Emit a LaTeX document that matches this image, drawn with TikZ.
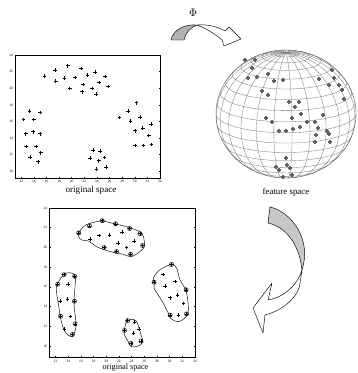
\documentclass[tikz,border=0pt]{standalone}
\usepackage{fontspec}
\setmainfont{Liberation Serif}
\begin{document}
\begin{tikzpicture}[x=1pt,y=-1pt,
  pm/.style={line width=0.5pt},
  sv/.style={line width=0.45pt},
  frame/.style={line width=0.5pt},
  tk/.style={font=\fontsize{3.6}{4}\selectfont, inner sep=0.4pt},
  sph/.style={black!55, line width=0.3pt},
  fp/.style={black!62, line width=1.5pt},
  arr/.style={line width=0.45pt, line join=round},
  lbl/.style={inner sep=0pt}]
\useasboundingbox[fill=white] (0,0) rectangle (357,373);

% ---------- top plot (original space) ----------
\begin{scope}[shift={(-54.34,254.44)}, x=6.304pt, y=8.31pt]
  \def\ybot{9.2}
  \draw[frame] (11,\ybot) rectangle (34,24);
  \foreach \x in {12,14,...,34} {
    \draw[frame] (\x,\ybot) -- ++(0,1.2pt) (\x,24) -- ++(0,-1.2pt);
    \node[tk,anchor=north] at ([yshift=-2pt]\x,\ybot) {\x};}
  \foreach \y in {10,12,...,24} {
    \draw[frame] (11,\y) -- ++(1.2pt,0) (34,\y) -- ++(-1.2pt,0);
    \node[tk,anchor=east] at ([xshift=-1.5pt]11,\y) {\y};}
  \foreach \a/\b in {15.65/21.47,17.35/22.19,17.46/20.84,19.36/22.71,18.82/21.20,
      20.52/21.27,19.68/19.99,21.47/22.40,22.47/21.56,21.83/20.47,21.63/19.58,
      23.69/21.92,23.21/19.99,24.37/20.67,23.85/19.31,25.32/21.39,25.75/20.19,
      12.32/16.26,12.70/14.53,12.79/13.01,13.33/17.23,13.38/11.73,13.97/16.26,
      13.86/14.77,14.33/12.97,14.65/11.16,15.01/17.06,14.97/14.53,15.08/12.24,
      23.37/12.57,22.90/11.57,24.48/12.45,24.28/11.28,25.17/11.69,23.90/10.25,25.48/10.49,
      27.55/16.46,28.97/17.26,29.29/16.06,30.30/18.26,30.04/14.89,30.83/16.54,
      31.26/15.18,30.08/13.13,31.41/13.13,32.21/14.29,32.62/15.70,32.68/13.25}
    {\draw[pm] (\a,\b) ++(-1.8pt,0) -- ++(3.6pt,0) (\a,\b) ++(0,-1.8pt) -- ++(0,3.6pt);}
\end{scope}
\node[lbl,font=\fontsize{9.1}{10}\selectfont] (t1) at (91,190) {original space};

% ---------- bottom plot (original space with clusters) ----------
\begin{scope}[shift={(-20.33,444.4)}, x=6.33pt, y=9.85pt]
  \def\ybot{8.87}
  \draw[frame] (11,\ybot) rectangle (34,24);
  \foreach \x in {12,14,...,34} {
    \draw[frame] (\x,\ybot) -- ++(0,1.2pt) (\x,24) -- ++(0,-1.2pt);
    \node[tk,anchor=north] at ([yshift=-2pt]\x,\ybot) {\x};}
  \foreach \y in {10,12,...,24} {
    \draw[frame] (11,\y) -- ++(1.2pt,0) (34,\y) -- ++(-1.2pt,0);
    \node[tk,anchor=east] at ([xshift=-1.5pt]11,\y) {\y};}
  % contours
  \draw[line width=0.45pt] plot[smooth cycle, tension=0.6] coordinates {
    (12.17,16.11) (13.21,17.2) (14.27,17.43) (15.11,17.1) (15.06,16.01) (14.9,14.32)
    (15.22,12.12) (14.8,11.11) (14.38,10.94) (13.48,11.44) (12.85,12.63) (12.42,14.32) (12.17,15.34)};
  \draw[line width=0.45pt] plot[smooth cycle, tension=0.6] coordinates {
    (15.64,21.43) (16.37,22.1) (17.43,22.45) (19.28,22.68) (20.59,22.51) (22.17,22.27)
    (24.02,21.94) (25.6,21.43) (26.01,20.58) (25.85,19.9) (24.54,19.23) (23.75,19.06)
    (22.69,19.3) (21.38,19.46) (19.8,19.74) (18.49,20.07) (17.16,20.65) (16.12,20.75) (15.64,21.09)};
  \draw[line width=0.45pt] plot[smooth cycle, tension=0.6] coordinates {
    (23.23,12.46) (24.02,12.7) (24.81,12.46) (25.33,11.44) (25.76,10.43) (25.06,9.99)
    (24.02,9.92) (23.48,10.43) (22.8,11.28) (22.96,11.95)};
  \draw[line width=0.45pt] plot[smooth cycle, tension=0.6] coordinates {
    (27.43,16.86) (28.22,17.6) (29.55,18.11) (30.5,18.28) (31.13,17.88) (31.65,16.69)
    (32.44,15.85) (32.8,15.0) (32.96,13.64) (32.6,12.96) (31.38,12.46) (30.18,12.8)
    (29.8,13.31) (29.01,14.32) (28.22,15.17) (27.54,15.85) (27.59,16.35)};
  % points
  \foreach \a/\b in {15.65/21.47,17.35/22.19,17.46/20.84,19.36/22.71,18.82/21.20,
      20.52/21.27,19.68/19.99,21.47/22.40,22.47/21.56,21.83/20.47,21.63/19.58,
      23.69/21.92,23.21/19.99,24.37/20.67,23.85/19.31,25.32/21.39,25.75/20.19,
      12.32/16.26,12.70/14.53,12.79/13.01,13.33/17.23,13.38/11.73,13.97/16.26,
      13.86/14.77,14.33/12.97,14.65/11.16,15.01/17.06,14.97/14.53,15.08/12.24,
      23.37/12.57,22.90/11.57,24.48/12.45,24.28/11.28,25.17/11.69,23.90/10.25,25.48/10.49,
      27.55/16.46,28.97/17.26,29.29/16.06,30.30/18.26,30.04/14.89,30.83/16.54,
      31.26/15.18,30.08/13.13,31.41/13.13,32.21/14.29,32.62/15.70,32.68/13.25}
    {\draw[pm] (\a,\b) ++(-1.8pt,0) -- ++(3.6pt,0) (\a,\b) ++(0,-1.8pt) -- ++(0,3.6pt);}
  \foreach \a/\b in {15.65/21.47,17.35/22.19,19.36/22.71,21.47/22.40,23.69/21.92,
      25.32/21.39,25.75/20.19,23.85/19.31,21.63/19.58,19.68/19.99,
      12.32/16.26,13.33/17.23,15.01/17.06,14.97/14.53,15.08/12.24,14.65/11.16,12.79/13.01,
      23.37/12.57,22.90/11.57,23.90/10.25,25.48/10.49,
      27.55/16.46,30.30/18.26,32.62/15.70,32.68/13.25,30.08/13.13}
    {\draw[sv] (\a,\b) circle[radius=2.1pt];}
\end{scope}
\node[lbl,font=\fontsize{8.2}{9}\selectfont] (t2) at (125.5,368) {original space};

% ---------- sphere (feature space) ----------
\begin{scope}[shift={(286,114)}, x=70pt, y=64pt]
  \def\e{17}
  \foreach \f in {-70,-60,...,80} {
    \pgfmathsetmacro\c{-tan(\f)*tan(\e)}
    \pgfmathsetmacro\L{acos(max(-1,min(1,\c)))}
    \draw[sph] plot[smooth, domain=-\L:\L, samples=49, variable=\t]
      ({cos(\f)*sin(\t)},{sin(\f)*cos(\e)-cos(\f)*cos(\t)*sin(\e)});
  }
  \foreach \l in {5,20,...,350} {
    \pgfmathsetmacro\d{atan2(sin(\e), cos(\l)*cos(\e))}
    \pgfmathsetmacro\lo{\d-90}
    \draw[sph] plot[smooth, domain=\lo:90, samples=40, variable=\t]
      ({cos(\t)*sin(\l)},{sin(\t)*cos(\e)-cos(\t)*cos(\l)*sin(\e)});
  }
  \draw[black!60, line width=0.4pt] plot[smooth cycle, domain=0:355, samples=72, variable=\t] ({cos(\t)},{sin(\t)});
\end{scope}
\foreach \a/\b in {245/60,255/60,252/68,248/78,257/77,268/74,274/81,283/80,262/91,268/95,
    289/102,299/102,295/107,301/114,307/122,292/118,266/118,272/122,315/122,323/115,
    279/131,286/131,293/129,300/127,318/128,316/135,327/131,330/142,315/142,329/134,
    319/79,332/70,334/78,329/85,339/85,342/90,344/99,
    286/158,287/165,290/168,276/167,279/170,283/177,292/175}
  {\draw[fp] (\a,\b) ++(-2.1pt,0) -- ++(4.2pt,0) (\a,\b) ++(0,-2.1pt) -- ++(0,4.2pt);}
\node[lbl,font=\fontsize{8.9}{10}\selectfont] (t3) at (286,192) {feature space};

% ---------- mapping arrow Phi ----------
\node[lbl,font=\fontsize{11}{12}\selectfont] (phi) at (193,13) {$\Phi$};
\filldraw[arr, fill=black!30] (171,40) .. controls (173,30) and (184,24) .. (197,25)
   .. controls (191,27) and (185,33) .. (184,40) -- cycle;
\filldraw[arr, fill=white] (197,25) .. controls (209,24) and (218,27) .. (225,31)
   -- (229,27) -- (241,39) -- (224,46) -- (222,40)
   .. controls (214,33) and (205,28) .. (197,25) -- cycle;

% ---------- return arrow ----------
\filldraw[arr, fill=black!22] (270,207) .. controls (292,212) and (312,240) .. (302,270)
   .. controls (300,250) and (290,228) .. (268,223) -- cycle;
\filldraw[arr, fill=white] (302,270) .. controls (298,284) and (285,297) .. (268,300)
   -- (272,283) -- (253,308) -- (263,333) -- (265,315)
   .. controls (288,309) and (300,292) .. (300,283) -- cycle;
\end{tikzpicture}
\end{document}
